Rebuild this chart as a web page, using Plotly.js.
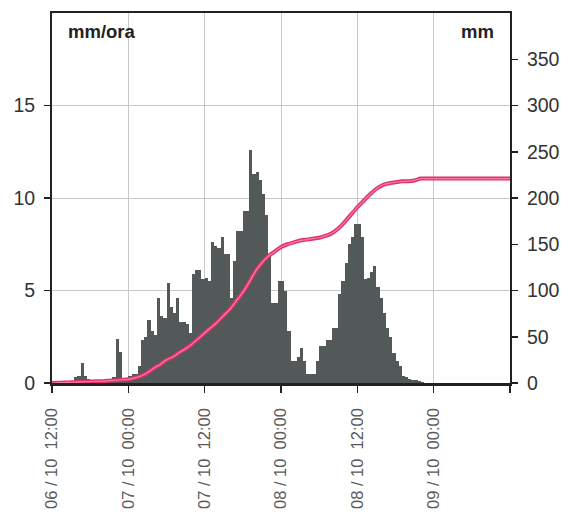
<!DOCTYPE html>
<html>
<head>
<meta charset="utf-8">
<script src="https://cdn.plot.ly/plotly-3.0.1.min.js"></script>
<style>
  html, body { margin: 0; padding: 0; background: #ffffff; }
  #chart { width: 570px; height: 520px; }
</style>
</head>
<body>
<div id="chart"></div>
<script>
// Half-hourly rainfall intensity (mm/ora), from 06/10 12:00, one value per 30 minutes
const intensity = [
  0.1, 0.1, 0.1, 0.1, 0.1, 0.1, 0.1, 0.3, 0.4, 1.1,
  0.4, 0.2, 0.1, 0.1, 0.1, 0.1, 0.1, 0.1, 0.1, 0.3,
  2.4, 1.7, 0.2, 0.2, 0.4, 0.5, 0.5, 0.9, 2.3, 2.5,
  3.4, 2.8, 2.6, 4.6, 3.6, 3.5, 5.4, 4.1, 3.8, 4.6,
  3.3, 3.3, 3.2, 2.7, 5.9, 6.1, 6.1, 5.6, 5.7, 5.5,
  7.6, 7.4, 7.3, 7.9, 7.0, 7.0, 4.6, 6.6, 8.2, 8.2,
  9.3, 9.3, 12.6, 11.3, 11.4, 11.0, 10.2, 9.1, 7.0, 4.3,
  4.3, 5.5, 5.5, 5.0, 2.8, 1.2, 1.2, 1.4, 1.9, 1.2,
  0.5, 0.5, 0.5, 1.2, 2.0, 2.0, 2.3, 2.3, 3.0, 3.0,
  4.8, 5.5, 6.5, 7.5, 7.9, 8.6, 8.6, 7.9, 5.6, 5.7,
  6.0, 6.3, 5.2, 4.6, 3.8, 3.0, 2.5, 1.6, 1.2, 0.9,
  0.4, 0.3, 0.2, 0.15, 0.15, 0.1, 0.05, 0, 0, 0,
  0, 0, 0, 0, 0, 0, 0, 0, 0, 0,
  0, 0, 0, 0, 0, 0, 0, 0, 0, 0,
  0, 0, 0, 0
];
// Hourly cumulative rainfall (mm), hours 0..72 from 06/10 12:00
const cumulative = [
  0, 0.3, 0.5, 0.8, 1, 1.3, 1.5, 1.8, 2, 2.5,
  3, 3.5, 4, 5.5, 7.5, 11, 16, 20, 25, 28,
  33, 37, 42, 48, 54, 60, 66, 73, 80, 89,
  98, 109, 121, 130, 137, 142, 147, 150, 152, 154,
  155, 156, 157, 159, 162, 167, 174, 182, 190, 197,
  204, 210, 214, 216, 217, 218, 218, 219, 221, 221,
  221, 221, 221, 221, 221, 221, 221, 221, 221, 221,
  221, 221, 221
];
const tickHours = [0, 12, 24, 36, 48, 60, 72];
const tickLabels = [
  "06 / 10\u00a0\u00a012:00",
  "07 / 10\u00a0\u00a000:00",
  "07 / 10\u00a0\u00a012:00",
  "08 / 10\u00a0\u00a000:00",
  "08 / 10\u00a0\u00a012:00",
  "09 / 10\u00a0\u00a000:00",
  ""
];
const leftTicks = [0, 5, 10, 15];
const rightTicks = [0, 50, 100, 150, 200, 250, 300, 350];

const barX = intensity.map((v, i) => i * 0.5 + 0.25);
const cumX = cumulative.map((v, i) => i);

const FONT = "Liberation Sans, Arial, sans-serif";

const traces = [
  {
    type: "bar", x: barX, y: intensity, width: 0.5,
    marker: { color: "#525958", line: { width: 0 } },
    yaxis: "y", hoverinfo: "skip"
  },
  {
    type: "scatter", mode: "lines", x: cumX, y: cumulative, yaxis: "y2",
    line: { color: "#e3306d", width: 4, shape: "spline", smoothing: 0.6 },
    hoverinfo: "skip"
  },
  {
    type: "scatter", mode: "lines", x: cumX, y: cumulative, yaxis: "y2",
    line: { color: "#f27fa6", width: 1.2, shape: "spline", smoothing: 0.6 },
    hoverinfo: "skip"
  }
];

const layout = {
  width: 570, height: 520,
  margin: { l: 52, r: 60, t: 13, b: 137 },
  paper_bgcolor: "#ffffff", plot_bgcolor: "#ffffff",
  showlegend: false,
  bargap: 0,
  font: { family: FONT, color: "#333333" },
  xaxis: {
    range: [0, 72], tickmode: "array", tickvals: tickHours, ticktext: tickLabels,
    tickangle: -90, tickfont: { size: 16.5, color: "#5a5a5a", family: FONT },
    ticks: "outside", ticklen: 7, tickwidth: 1.5, tickcolor: "#222",
    ticklabelstandoff: 9,
    showgrid: true, gridcolor: "#c8c8c8", gridwidth: 1,
    showline: true, linecolor: "#222", linewidth: 2.5, mirror: true,
    zeroline: false, automargin: false, fixedrange: true
  },
  yaxis: {
    range: [0, 20], tickmode: "array", tickvals: leftTicks,
    tickfont: { size: 19.5, color: "#333", family: FONT },
    ticks: "outside", ticklen: 6, tickwidth: 1.5, tickcolor: "#222",
    ticklabelstandoff: 5,
    showgrid: true, gridcolor: "#c8c8c8", gridwidth: 1,
    showline: true, linecolor: "#222", linewidth: 2,
    zeroline: false, automargin: false, fixedrange: true
  },
  yaxis2: {
    range: [0, 400], overlaying: "y", side: "right", tickmode: "array", tickvals: rightTicks,
    tickfont: { size: 19.5, color: "#333", family: FONT },
    ticks: "outside", ticklen: 6, tickwidth: 1.5, tickcolor: "#222",
    ticklabelstandoff: 5,
    showgrid: false, showline: true, linecolor: "#222", linewidth: 2,
    zeroline: false, automargin: false, fixedrange: true
  },
  annotations: [
    {
      xref: "paper", yref: "paper", x: 0.03, y: 0.985, xanchor: "left", yanchor: "top",
      text: "<b>mm/ora</b>", showarrow: false,
      font: { size: 18.5, color: "#222", family: FONT }
    },
    {
      xref: "paper", yref: "paper", x: 0.97, y: 0.985, xanchor: "right", yanchor: "top",
      text: "<b>mm</b>", showarrow: false,
      font: { size: 18.5, color: "#222", family: FONT }
    }
  ]
};

Plotly.newPlot("chart", traces, layout, { displayModeBar: false, staticPlot: true });
</script>
</body>
</html>
